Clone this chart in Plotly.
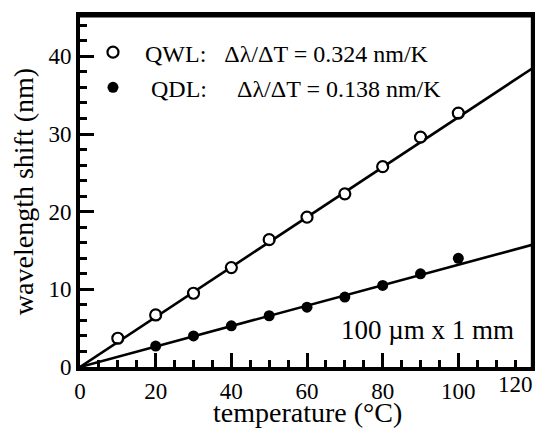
import plotly.graph_objects as go

# ---- data ----
temp_qwl = [10, 20, 30, 40, 50, 60, 70, 80, 90, 100]
shift_qwl = [3.7, 6.7, 9.5, 12.8, 16.4, 19.3, 22.3, 25.8, 29.6, 32.7]

temp_qdl = [20, 30, 40, 50, 60, 70, 80, 90, 100]
shift_qdl = [2.7, 4.0, 5.3, 6.6, 7.7, 9.0, 10.5, 12.0, 14.0]

fit_temp = [0, 120]
fit_qwl = [0, 38.6]
fit_qdl = [0, 15.8]

x_tickvals = [0, 20, 40, 60, 80, 100, 120]
x_ticktext = ["0", "20", "40", "60", "80", "100", ""]
x_last_label = "120"

NB = "\u00a0"
label_qwl = NB * 2 + "QWL:" + NB * 3 + "Δλ/ΔT = 0.324 nm/K"
label_qdl = NB * 3 + "QDL:" + NB * 5 + "Δλ/ΔT = 0.138 nm/K"
sample_label = "100 µm x 1 mm"
x_title = "temperature (°C)"
y_title = "wavelength shift (nm)"

FONT = "Times New Roman, Liberation Serif, Times, serif"

fig = go.Figure()

fig.add_trace(go.Scatter(x=fit_temp, y=fit_qwl, mode="lines",
                         line=dict(color="black", width=2.6), showlegend=False,
                         hoverinfo="skip"))
fig.add_trace(go.Scatter(x=fit_temp, y=fit_qdl, mode="lines",
                         line=dict(color="black", width=2.6), showlegend=False,
                         hoverinfo="skip"))

fig.add_trace(go.Scatter(x=temp_qwl, y=shift_qwl, mode="markers", name=label_qwl,
                         legendgroup="a",
                         marker=dict(symbol="circle-open", size=11, color="black",
                                     line=dict(width=2.2, color="black"))))
fig.add_trace(go.Scatter(x=temp_qwl, y=shift_qwl, mode="markers", showlegend=False,
                         marker=dict(symbol="circle", size=8, color="white"),
                         hoverinfo="skip"))
fig.add_trace(go.Scatter(x=temp_qdl, y=shift_qdl, mode="markers", name=label_qdl,
                         legendgroup="b",
                         marker=dict(symbol="circle", size=11, color="black")))

# the page body has an 8px margin and the visible figure area ends at x=535,
# so the figure is sized to fit inside that area
fig.update_layout(
    width=527, height=422,
    margin=dict(l=72, r=1, t=8, b=63, autoexpand=False),
    paper_bgcolor="white", plot_bgcolor="white",
    font=dict(family=FONT, color="black", size=23),
    showlegend=True,
    legend=dict(x=0.0286, y=0.96, xanchor="left", yanchor="top",
                bgcolor="rgba(0,0,0,0)", font=dict(family=FONT, size=24),
                tracegroupgap=1, itemwidth=30),
    xaxis=dict(range=[0, 120], showgrid=False, zeroline=False,
               showline=True, linewidth=4, linecolor="black", mirror=True,
               ticks="inside", ticklen=14, tickwidth=3, tickcolor="black",
               tickmode="array", tickvals=x_tickvals, ticktext=x_ticktext,
               minor=dict(ticks="inside", ticklen=7, tickwidth=2.5, dtick=5, tick0=0,
                          tickcolor="black", showgrid=False),
               tickfont=dict(family=FONT, size=23)),
    yaxis=dict(range=[0, 45.2], showgrid=False, zeroline=False,
               showline=True, linewidth=4, linecolor="black", mirror=True,
               ticks="inside", ticklen=14, tickwidth=3, tickcolor="black",
               dtick=10, tick0=0,
               minor=dict(ticks="inside", ticklen=7, tickwidth=2.5, dtick=2,
                          tickcolor="black", showgrid=False),
               tickfont=dict(family=FONT, size=23),
               title=dict(text=y_title, font=dict(family=FONT, size=28),
                          standoff=10)),
    shapes=[
        # top border
        dict(type="rect", xref="paper", yref="paper", x0=-0.004, x1=1.0, y0=0.996, y1=1.008,
             line=dict(width=0), fillcolor="black", layer="above"),
        # right border
        dict(type="rect", xref="paper", yref="paper", x0=0.993, x1=1.0, y0=0.0, y1=1.008,
             line=dict(width=0), fillcolor="black", layer="above"),
    ],
    annotations=[
        dict(text=sample_label, xref="paper", yref="paper",
             x=0.96, y=0.105, xanchor="right", yanchor="middle",
             showarrow=False, font=dict(family=FONT, size=27)),
        dict(text=x_last_label, xref="x", yref="paper",
             x=x_tickvals[-1], y=0, xanchor="right", yanchor="top",
             xshift=1, yshift=-3,
             showarrow=False, font=dict(family=FONT, size=23)),
        dict(text=x_title, xref="paper", yref="paper",
             x=0.5, y=0, xanchor="center", yanchor="middle",
             yshift=-45, showarrow=False, font=dict(family=FONT, size=28)),
    ],
)

fig.write_html("out.html")
